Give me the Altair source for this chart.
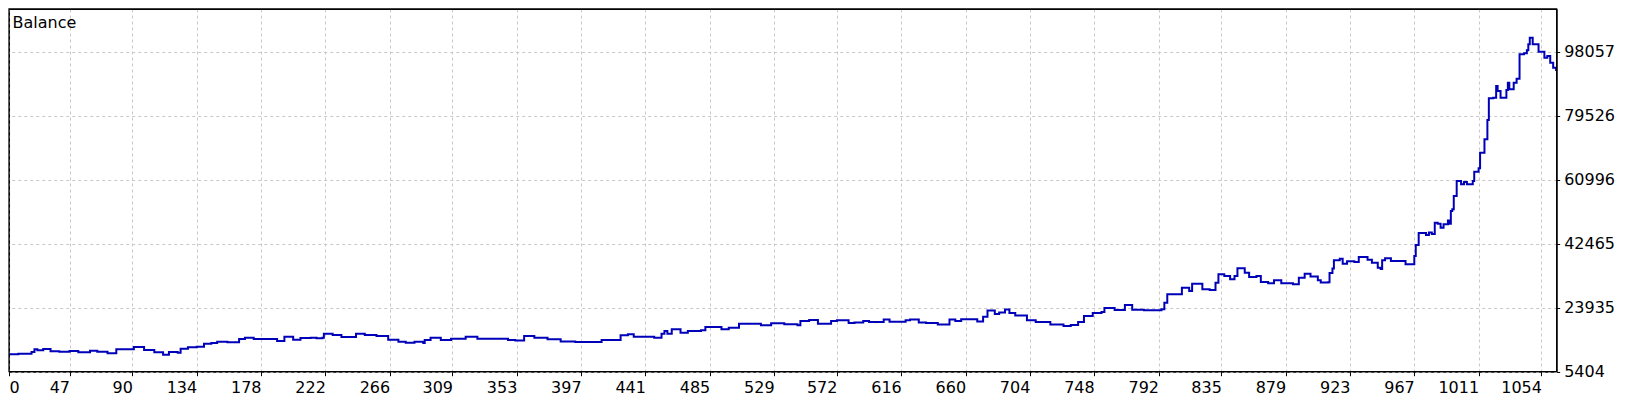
import altair as alt
import pandas as pd

# x-axis tick labels (trade numbers) and y-axis tick values (balance)
x_labels = [0, 47, 90, 134, 178, 222, 266, 309, 353, 397, 441, 485, 529, 572,
            616, 660, 704, 748, 792, 835, 879, 923, 967, 1011, 1054]
y_ticks = [5404, 23935, 42465, 60996, 79526, 98057]

# balance curve (trade number, balance)
trades = [
    3, 5, 12, 21, 23, 25, 29, 34, 40, 47,
    53, 61, 66, 73, 79, 86, 91, 98, 105, 111,
    115, 121, 123, 128, 134, 139, 144, 148, 155, 162,
    163, 167, 173, 180, 185, 189, 194, 200, 205, 212,
    216, 220, 221, 227, 233, 241, 243, 249, 257, 265,
    272, 277, 283, 289, 290, 294, 301, 308, 318, 326,
    335, 347, 352, 358, 365, 374, 383, 393, 408, 411,
    423, 424, 429, 433, 441, 447, 452, 454, 456, 459,
    465, 470, 479, 482, 493, 498, 505, 520, 527, 536,
    545, 547, 553, 559, 568, 572, 580, 584, 590, 594,
    604, 608, 619, 622, 628, 633, 641, 649, 653, 657,
    663, 668, 672, 675, 680, 683, 687, 690, 694, 702,
    708, 718, 727, 732, 737, 741, 747, 753, 755, 762,
    769, 774, 782, 794, 796, 798, 805, 808, 813, 815,
    822, 827, 831, 833, 837, 841, 844, 846, 851, 854,
    859, 862, 867, 871, 876, 884, 888, 892, 896, 901,
    903, 908, 909, 911, 912, 916, 918, 921, 926, 929,
    935, 938, 942, 944, 945, 947, 951, 958, 961, 966,
    967, 968, 970, 975, 977, 979, 981, 983, 985, 987,
    990, 991, 992, 993, 994, 996, 999, 1001, 1003, 1007,
    1008, 1011, 1012, 1015, 1017, 1018, 1021, 1023, 1024, 1026,
    1029, 1030, 1031, 1032, 1035, 1037, 1039, 1042, 1044, 1045,
    1046, 1047, 1048, 1052, 1055, 1056, 1058, 1060, 1062, 1064,
]
balance = [
    10240, 10440, 10620, 11110, 11890, 11600, 11980, 11310, 11200, 11400,
    11020, 11490, 11200, 10730, 11890, 11890, 12560, 11690, 11020, 10330,
    11110, 10900, 12060, 12470, 12640, 13510, 13710, 14090, 13920, 13920,
    14870, 15250, 14870, 14870, 14870, 14290, 15540, 14670, 15160, 15250,
    15080, 15250, 16410, 16030, 15450, 15450, 16410, 16030, 15740, 14670,
    14090, 13800, 14090, 13710, 14580, 15250, 14580, 14960, 15540, 14960,
    14960, 14580, 14460, 15740, 15250, 14780, 14110, 14000, 14000, 14580,
    14580, 15940, 16230, 15540, 15540, 15250, 16410, 17190, 16410, 17680,
    16700, 17190, 17390, 18350, 17680, 18140, 19300, 18840, 19420, 19130,
    18840, 20080, 20370, 19300, 20080, 20290, 19500, 19680, 20080, 19790,
    20490, 19880, 20290, 20490, 19680, 19500, 19070, 20490, 20080, 20600,
    20600, 19970, 21330, 23100, 22140, 22570, 23390, 22400, 21650, 20290,
    19790, 19070, 18640, 18930, 19790, 21530, 22400, 22690, 23850, 23300,
    24710, 23350, 23180, 23470, 25380, 27810, 27810, 29730, 28770, 30880,
    29260, 29060, 31170, 33610, 33110, 32160, 33110, 35340, 34070, 32820,
    33110, 31380, 31000, 31870, 31000, 30710, 32620, 33780, 33000, 31900,
    31200, 31300, 34000, 35300, 37660, 38080, 36680, 37370, 37200, 38610,
    37810, 36960, 35520, 35140, 37660, 38230, 37450, 37450, 36500, 36500,
    38900, 42090, 45560, 45000, 45700, 45270, 48550, 48260, 47100, 48080,
    49160, 48260, 51950, 52430, 56300, 60620, 59660, 60330, 59660, 60620,
    63310, 64300, 68810, 72690, 78280, 84570, 84740, 88130, 86680, 84740,
    84740, 86970, 89080, 87170, 89080, 90240, 97300, 97590, 98460, 100200,
    102110, 102110, 100200, 98060, 98060, 96320, 96810, 94870, 93430, 92470,
]

X_MIN, X_MAX = 5.6, 1064.4
Y_MIN, Y_MAX = 5404, 110421
W, H = 1547.7, 362.7

df = pd.DataFrame({"trade": trades, "balance": balance})
label_df = pd.DataFrame({"label": ["Balance"]})

FONT = "DejaVu Sans"

line = alt.Chart(df).mark_line(
    interpolate="step-after", color="#0000b8", strokeWidth=2, clip=True
).encode(
    x=alt.X(
        "trade:Q",
        scale=alt.Scale(domain=[X_MIN, X_MAX], nice=False, zero=False),
        axis=alt.Axis(
            values=[X_MIN] + x_labels[1:],
            format="d",
            labelExpr="datum.value < 10 ? '0' : datum.label",
            title=None,
            domain=False,
            ticks=True,
            tickSize=4,
            tickColor="black",
            labelFont=FONT,
            labelFontSize=16,
            labelColor="black",
            labelPadding=4,
            labelAlign={"condition": {"test": "datum.value < 10", "value": "left"}, "value": "right"},
            labelOverlap=False,
            labelFlush=False,
            gridColor="#c8c8c8",
            gridDash=[3, 3],
            gridWidth=1,
        ),
    ),
    y=alt.Y(
        "balance:Q",
        scale=alt.Scale(domain=[Y_MIN, Y_MAX], nice=False, zero=False),
        axis=alt.Axis(
            orient="right",
            values=y_ticks,
            format="d",
            title=None,
            domain=False,
            ticks=True,
            tickSize=3,
            tickColor="black",
            labelFont=FONT,
            labelFontSize=16,
            labelColor="black",
            labelPadding=4,
            labelAlign="left",
            labelBaseline="middle",
            labelOverlap=False,
            labelFlush=False,
            gridColor="#c8c8c8",
            gridDash=[3, 3],
            gridWidth=1,
        ),
    ),
)

border = alt.Chart(label_df).mark_rect(
    fillOpacity=0, stroke="black", strokeWidth=1.3
).encode(
    x=alt.value(0), x2=alt.value(W), y=alt.value(0), y2=alt.value(H)
)

title = alt.Chart(label_df).mark_text(
    align="left", baseline="alphabetic", font=FONT, fontSize=16, color="black"
).encode(
    x=alt.value(3.5),
    y=alt.value(19.3),
    text="label:N",
)

chart = alt.layer(line, border, title).properties(
    width=W, height=H,
    padding={"left": 0, "top": 0, "right": 0, "bottom": 4},
    background="white",
).configure_view(stroke="black", strokeWidth=1)

chart.save("out.html", embed_options={"renderer": "svg", "actions": False})
